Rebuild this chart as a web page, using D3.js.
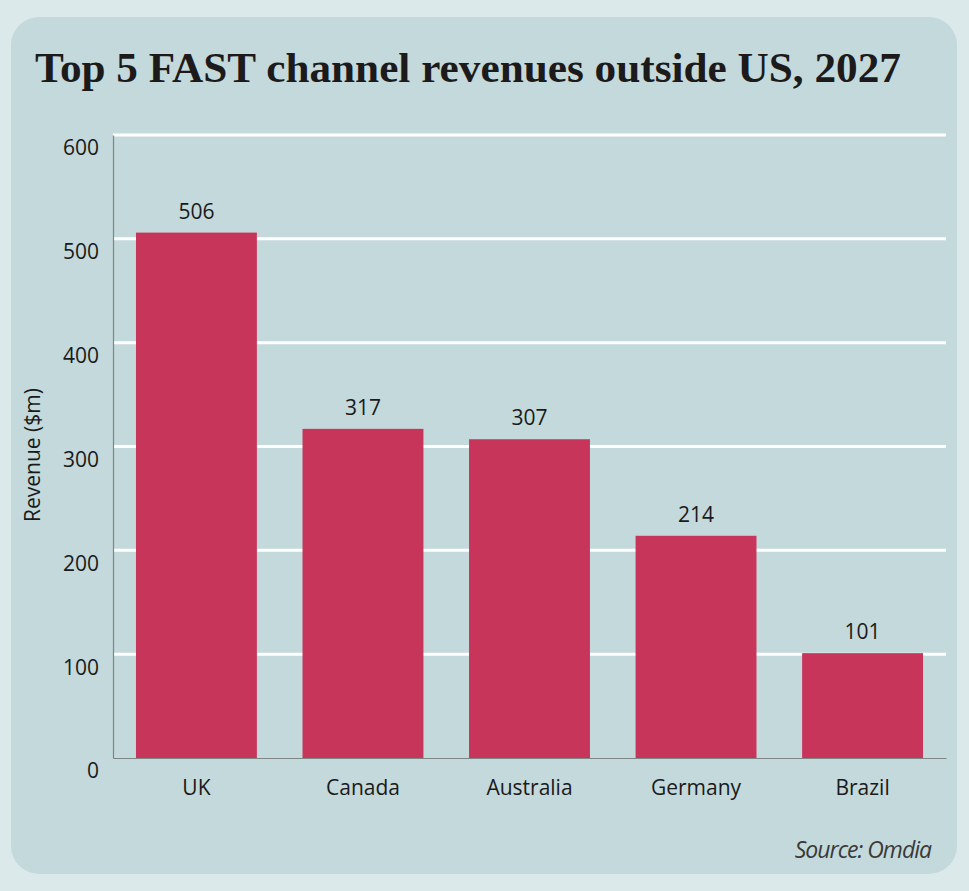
<!DOCTYPE html>
<html><head><meta charset="utf-8">
<script src="https://cdn.jsdelivr.net/npm/d3@7"></script>
<style>
html,body{margin:0;padding:0;background:#dce9eb;}
svg{display:block;}
</style></head>
<body>
<script>
const categories = ["UK", "Canada", "Australia", "Germany", "Brazil"];
const values = [506, 317, 307, 214, 101];
const yTicks = [0, 100, 200, 300, 400, 500, 600];
const titleText = "Top 5 FAST channel revenues outside US, 2027";
const yAxisTitle = "Revenue ($m)";
const sourceText = "Source: Omdia";

const W = 969, H = 891;
const svg = d3.select("body").append("svg").attr("width", W).attr("height", H);
svg.append("rect").attr("width", W).attr("height", H).attr("fill", "#dce9eb");
svg.append("rect").attr("x", 11).attr("y", 17).attr("width", 946).attr("height", 857)
  .attr("rx", 28).attr("fill", "#c4d9db");

svg.append("text").attr("x", 35).attr("y", 82)
  .attr("font-family", "'Liberation Serif', 'DejaVu Serif', serif")
  .attr("font-weight", "bold").attr("font-size", 42).attr("fill", "#1c1a1a")
  .attr("textLength", 866).attr("lengthAdjust", "spacingAndGlyphs")
  .text(titleText);

const x = d3.scaleBand().domain(categories).range([113, 946])
  .paddingInner(0.274).paddingOuter(0.138);
const y = d3.scaleLinear().domain([0, 600]).range([758, 135]);

const font = "'Open Sans', 'Noto Sans', sans-serif";

// gridlines
svg.append("g").selectAll("line").data(yTicks.filter(d => d > 0)).join("line")
  .attr("x1", 113).attr("x2", 946)
  .attr("y1", d => y(d)).attr("y2", d => y(d))
  .attr("stroke", "#ffffff").attr("stroke-width", 3);

// bars
svg.append("g").selectAll("rect").data(values).join("rect")
  .attr("x", (d, i) => x(categories[i]))
  .attr("width", x.bandwidth())
  .attr("y", d => y(d))
  .attr("height", d => y(0) - y(d))
  .attr("fill", "#c7365a");

// value labels
svg.append("g").selectAll("text").data(values).join("text")
  .attr("x", (d, i) => x(categories[i]) + x.bandwidth() / 2)
  .attr("y", d => y(d) - 14)
  .attr("text-anchor", "middle")
  .attr("font-family", font).attr("font-size", 21).attr("fill", "#1a1a1a")
  .text(d => d);

// y axis
const yAxis = d3.axisLeft(y).tickValues(yTicks).tickSize(0).tickPadding(14);
const gy = svg.append("g").attr("transform", "translate(113,0)").call(yAxis);
gy.select(".domain").attr("stroke", "#7d8585").attr("stroke-width", 1.2);
gy.selectAll("text").attr("font-family", font).attr("font-size", 21)
  .attr("fill", "#1a1a1a").attr("dy", "0.95em");

// x axis
const xAxis = d3.axisBottom(x).tickSize(0).tickPadding(22);
const gx = svg.append("g").attr("transform", "translate(0,758)").call(xAxis);
gx.select(".domain").attr("stroke", "#7d8585").attr("stroke-width", 1.2);
gx.selectAll("text").attr("font-family", font).attr("font-size", 21).attr("fill", "#1a1a1a");

// y axis title
svg.append("text").attr("transform", "translate(40,455) rotate(-90)")
  .attr("text-anchor", "middle").attr("font-family", font).attr("font-size", 21)
  .attr("fill", "#1a1a1a").text(yAxisTitle);

// source
svg.append("text").attr("x", 931).attr("y", 858).attr("text-anchor", "end")
  .attr("font-family", font).attr("font-style", "italic").attr("font-size", 23)
  .attr("fill", "#3a3a3a").attr("letter-spacing", -1).text(sourceText);
</script>
</body></html>
